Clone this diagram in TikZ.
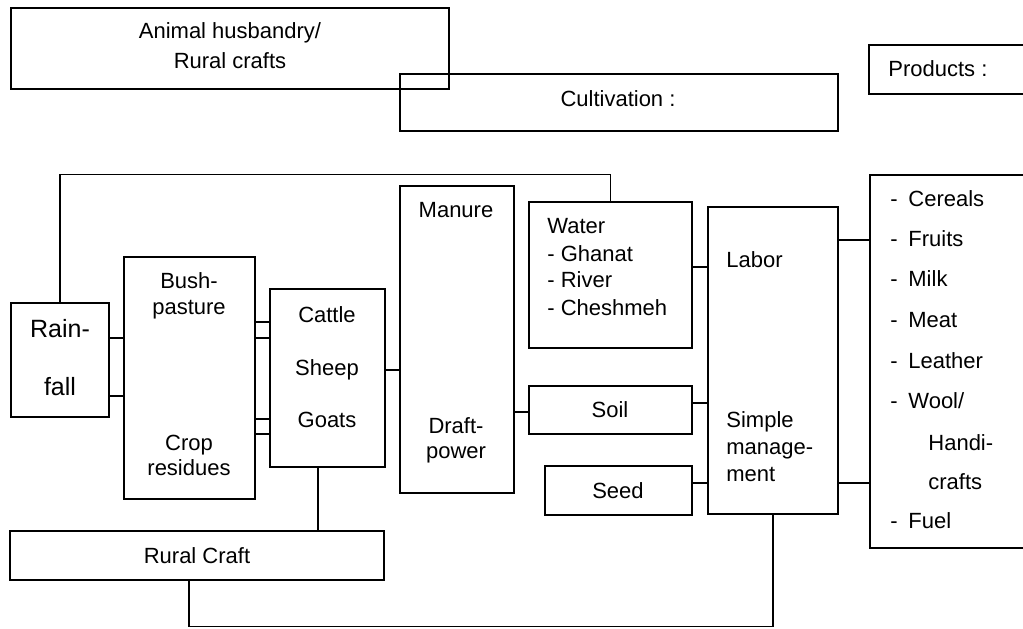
\documentclass[tikz,border=0pt]{standalone}
\usepackage{fontspec}
\setmainfont{Liberation Sans}
\usetikzlibrary{positioning,calc}

\begin{document}
\begin{tikzpicture}[
    x=0.5pt, y=-0.5pt,
    box/.style={draw, rectangle, inner sep=0pt, line width=0.7pt},
    lbl/.style={inner sep=0pt, font=\fontsize{11}{13}\selectfont},
    biglbl/.style={lbl, font=\fontsize{12.5}{14}\selectfont},
    link/.style={line width=0.7pt}
]
\useasboundingbox (0,0) rectangle (1023,628);
\clip (0,0) rectangle (1023,628);

% Headings
\node[box, minimum width=219pt, minimum height=40.5pt] (husbandry) at (230,48.5) {};
\node[box, minimum width=219pt, minimum height=28.5pt] (cultivation) at (619,102.5) {};
\node[box, minimum width=88pt, minimum height=24.5pt] (prodhead) at (957,69.5) {};
\node[lbl, anchor=base] (husbandry1) at (230,38) {Animal husbandry/};
\node[lbl, anchor=base] (husbandry2) at (230,68) {Rural crafts};
\node[lbl, anchor=base] (cultivationtxt) at (618,106) {Cultivation :};
\node[lbl, anchor=base west] (prodheadtxt) at (888,76) {Products :};

% Resource boxes
\node[box, minimum width=49pt, minimum height=57pt] (rain) at (60,360) {};
\node[box, minimum width=65.5pt, minimum height=121pt] (bush) at (189.5,378) {};
\node[box, minimum width=57.5pt, minimum height=89pt] (cattle) at (327.5,378) {};
\node[box, minimum width=57pt, minimum height=153.5pt] (manure) at (457,339.5) {};
\node[box, minimum width=81.5pt, minimum height=73pt] (water) at (610.5,275) {};
\node[box, minimum width=81.5pt, minimum height=24pt] (soil) at (610.5,410) {};
\node[box, minimum width=73.5pt, minimum height=24.5pt] (seed) at (618.5,490.5) {};
\node[box, minimum width=65pt, minimum height=153.5pt] (mgmt) at (773,360.5) {};
\node[box, minimum width=87.5pt, minimum height=186.5pt] (prodlist) at (957.5,361.5) {};
\node[box, minimum width=187pt, minimum height=24.5pt] (craft) at (197,555.5) {};

% Box texts
\node[biglbl, anchor=base] (rain1) at (60,337) {Rain-};
\node[biglbl, anchor=base] (rain2) at (60,395) {fall};
\node[lbl, anchor=base] (bush1) at (189,288) {Bush-};
\node[lbl, anchor=base] (bush2) at (189,314) {pasture};
\node[lbl, anchor=base] (crop1) at (189,450) {Crop};
\node[lbl, anchor=base] (crop2) at (189,475) {residues};
\node[lbl, anchor=base] (cattle1) at (327,322) {Cattle};
\node[lbl, anchor=base] (cattle2) at (327,375) {Sheep};
\node[lbl, anchor=base] (cattle3) at (327,427) {Goats};
\node[lbl, anchor=base] (manure1) at (456,217) {Manure};
\node[lbl, anchor=base] (draft1) at (456,433) {Draft-};
\node[lbl, anchor=base] (draft2) at (456,458) {power};
\node[lbl, anchor=base west] (water1) at (547,233) {Water};
\node[lbl, anchor=base west] (water2) at (547,261) {- Ghanat};
\node[lbl, anchor=base west] (water3) at (547,287) {- River};
\node[lbl, anchor=base west] (water4) at (547,315) {- Cheshmeh};
\node[lbl, anchor=base] (soiltxt) at (610,417) {Soil};
\node[lbl, anchor=base] (seedtxt) at (618,498) {Seed};
\node[lbl, anchor=base west] (labor) at (726,267) {Labor};
\node[lbl, anchor=base west] (simple1) at (726,427) {Simple};
\node[lbl, anchor=base west] (simple2) at (726,454) {manage-};
\node[lbl, anchor=base west] (simple3) at (726,481) {ment};
\node[lbl, anchor=base] (crafttxt) at (197,563) {Rural Craft};

% Products list
\foreach \y/\name [count=\i] in {206/Cereals, 246/Fruits, 286/Milk, 327/Meat, 368/Leather, 408/Wool\slash, 528/Fuel} {
    \node[lbl, anchor=base west] (dash\i) at (890,\y) {-};
    \node[lbl, anchor=base west] (prod\i) at (908,\y) {\name};
}
\node[lbl, anchor=base west] (handi1) at (928,450) {Handi-};
\node[lbl, anchor=base west] (handi2) at (928,489) {crafts};

% Connectors
\draw[link] (rain.north) -- ++(0,-128) -| (water.north);
\foreach \y in {338,396}
    \draw[link] (rain.east |- 0,\y) -- (bush.west |- 0,\y);
\foreach \y in {322,338,419,434}
    \draw[link] (bush.east |- 0,\y) -- (cattle.west |- 0,\y);
\draw[link] (cattle.east |- 0,370) -- (manure.west |- 0,370);
\draw[link] (manure.east |- 0,412) -- (soil.west |- 0,412);
\draw[link] (water.east |- 0,267) -- (mgmt.west |- 0,267);
\draw[link] (soil.east |- 0,403) -- (mgmt.west |- 0,403);
\draw[link] (seed.east |- 0,483) -- (mgmt.west |- 0,483);
\foreach \y in {240,483}
    \draw[link] (mgmt.east |- 0,\y) -- (prodlist.west |- 0,\y);
\draw[link] (cattle.south -| 318,0) -- (craft.north -| 318,0);
\draw[link] (craft.south -| 189,0) -- ++(0,46) -| (mgmt.south);
\end{tikzpicture}
\end{document}
